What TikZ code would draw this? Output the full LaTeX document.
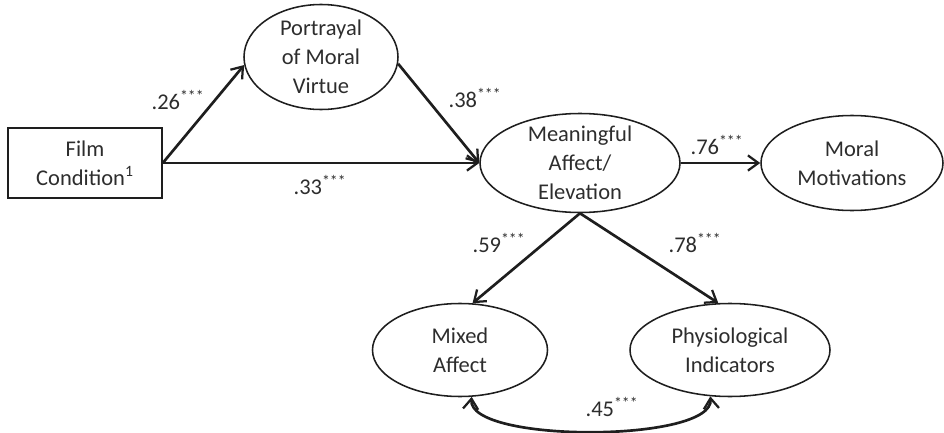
\documentclass[tikz,border=0pt]{standalone}
\usepackage{fontspec}
\setmainfont{Carlito}
\usetikzlibrary{arrows.meta,shapes.geometric}
\definecolor{ink}{RGB}{30,30,30}
\definecolor{txt}{RGB}{45,45,45}
\tikzset{
	flow/.style={-{Straight Barb[length=2.6mm,width=3.8mm,line width=1.6pt]},line width=1.9pt,draw=ink},
	biflow/.style={{Straight Barb[length=2.6mm,width=3.8mm,line width=1.6pt]}-{Straight Barb[length=2.6mm,width=3.8mm,line width=1.6pt]},line width=1.9pt,draw=ink},
	latent/.style={ellipse,draw=ink,line width=1.1pt,align=center,inner xsep=-2pt,inner ysep=-5pt,
		text=txt,font=\fontsize{16}{20.5}\selectfont},
	observed/.style={rectangle,draw=ink,line width=1.1pt,align=center,inner sep=0pt,
		text=txt,font=\fontsize{16}{20.5}\selectfont},
	coef/.style={text=txt,font=\fontsize{16}{18}\selectfont,inner sep=1pt},
}
\newcommand{\sig}[1]{#1\textsuperscript{***}}

\begin{document}
\begin{tikzpicture}
	\useasboundingbox (0,0) rectangle (23.6,-10.825);
	\node[observed,minimum width=3.85cm,minimum height=1.75cm] (film) at (2.125,-4.075)
	{Film\\Condition\textsuperscript{1}};
	\node[latent,minimum width=3.85cm,minimum height=2.625cm] (virtue) at (8.025,-1.425)
	{Portrayal\\of Moral\\Virtue};
	\node[latent,minimum width=5.0cm,minimum height=2.475cm] (elevation) at (14.5,-4.075)
	{Meaningful\\Affect/\\Elevation};
	\node[latent,minimum width=4.55cm,minimum height=2.375cm] (motivation) at (21.3,-4.075)
	{Moral\\Motivations};
	\node[latent,minimum width=4.375cm,minimum height=2.325cm] (mixed) at (11.5,-8.75)
	{Mixed\\Affect};
	\node[latent,minimum width=5.0cm,minimum height=2.325cm] (physio) at (18.25,-8.75)
	{Physiological\\Indicators};
	
	\draw[flow] (film.east) -- (virtue.186);
	\draw[flow] (film.east) -- (elevation.west);
	\draw[flow] (virtue.-5) -- (elevation.west);
	\draw[flow] (elevation.east) -- (motivation.west);
	\draw[flow] (elevation.south) -- (mixed.75);
	\draw[flow] (elevation.south) -- (physio.104);
	\draw[biflow] (mixed.-76) to[out=-95,in=-85,looseness=0.5] (physio.-113);
	
	\node[coef] (c1) at (4.45,-2.5) {\sig{.26}};
	\node[coef] (c2) at (11.875,-2.45) {\sig{.38}};
	\node[coef] (c3) at (8.0,-4.625) {\sig{.33}};
	\node[coef] (c4) at (17.925,-3.625) {\sig{.76}};
	\node[coef] (c5) at (12.475,-6.075) {\sig{.59}};
	\node[coef] (c6) at (17.375,-6.075) {\sig{.78}};
	\node[coef] (c7) at (15.3,-10.175) {\sig{.45}};
\end{tikzpicture}
\end{document}
